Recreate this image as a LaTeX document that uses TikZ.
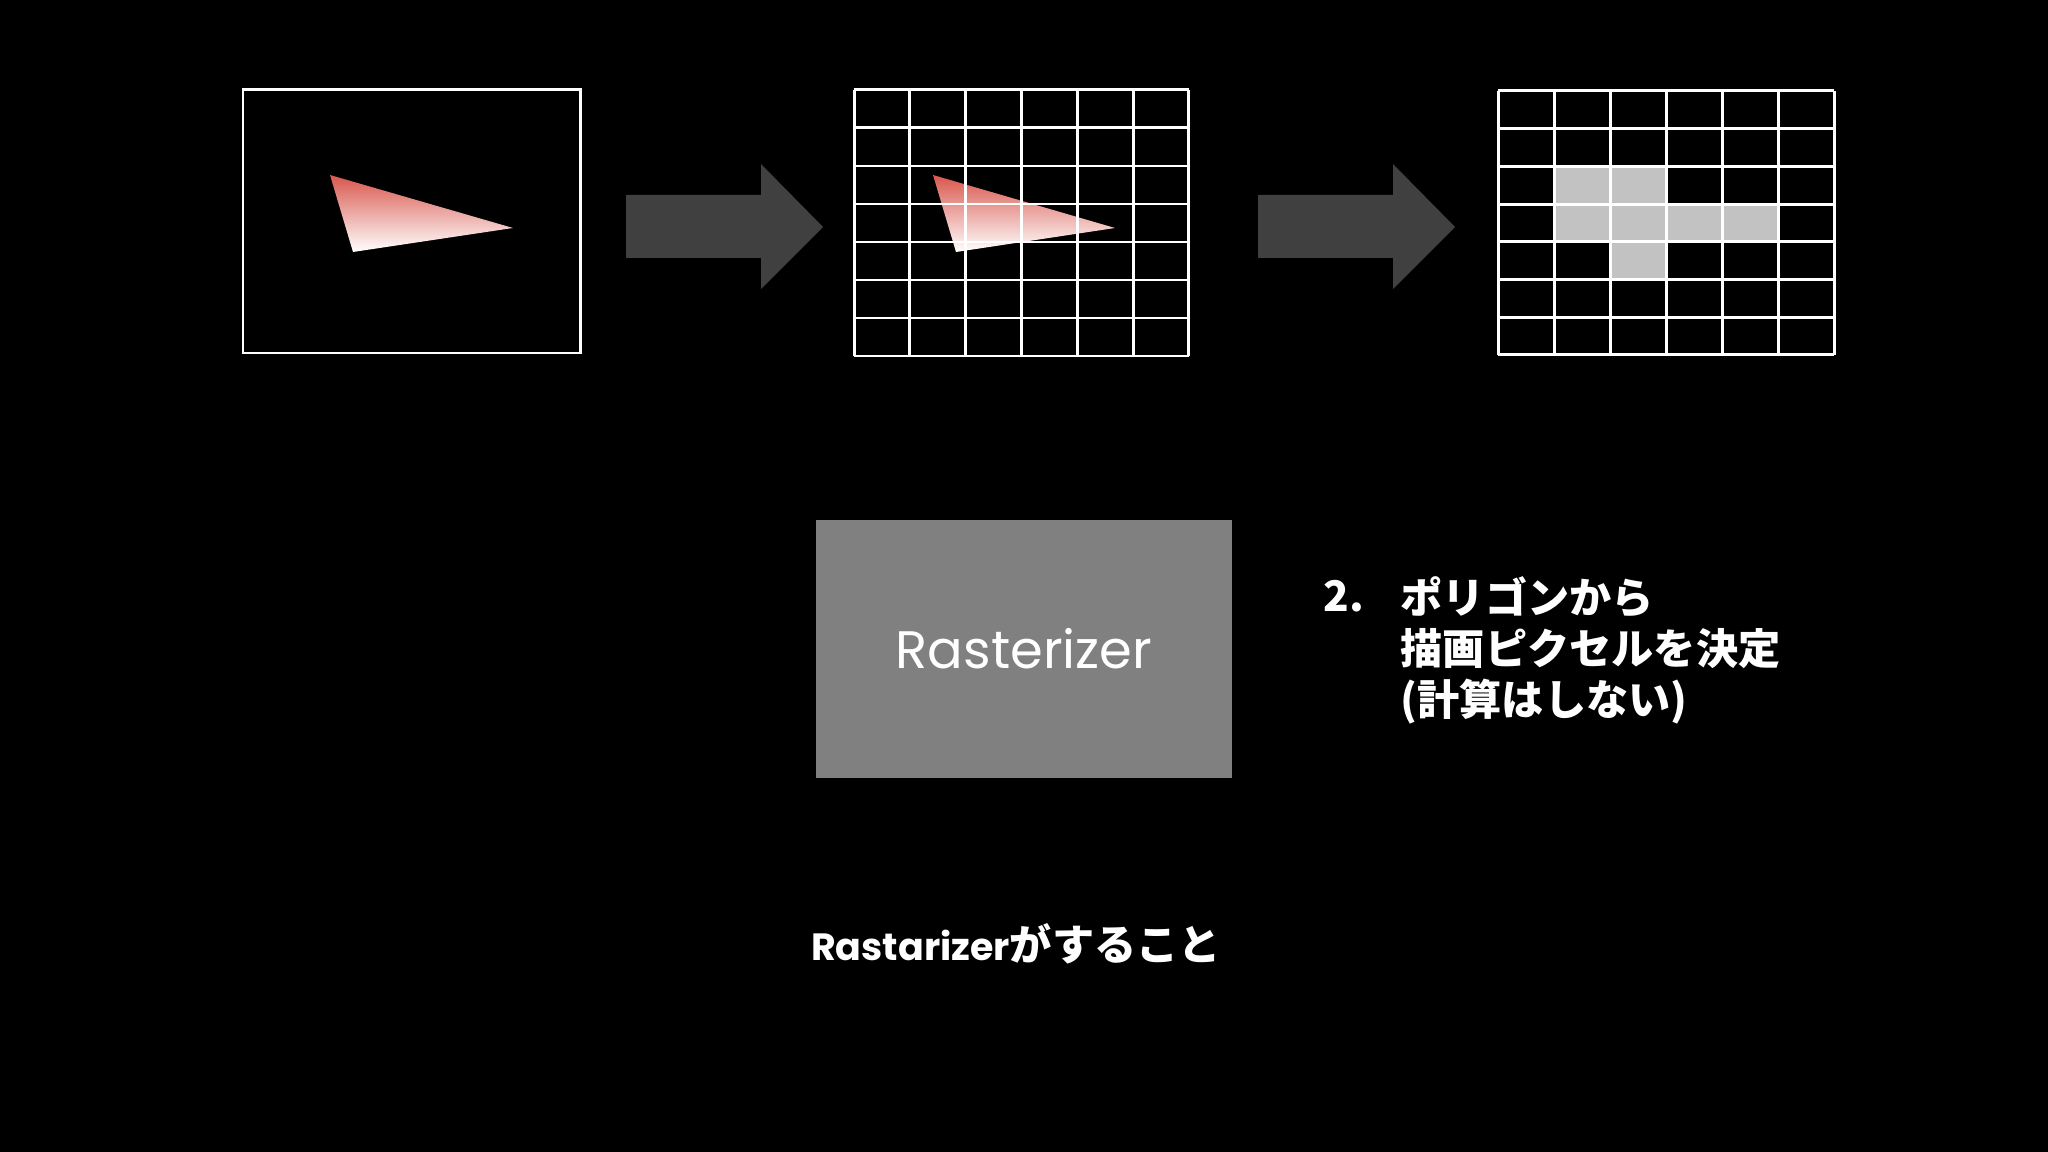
\documentclass[tikz,border=0pt]{standalone}
\usepackage{fontspec}
\setmainfont{Poppins}
\newfontfamily\jpfont{Noto Sans CJK JP}
\usetikzlibrary{calc}

\definecolor{arrowgray}{HTML}{414041}
\definecolor{boxgray}{HTML}{808080}
\definecolor{pixelgray}{HTML}{C2C2C2}
\definecolor{trired}{HTML}{D8574D}
\definecolor{tripink}{HTML}{F5E4E1}

\tikzset{
  frameline/.style={white,line width=0.85pt},
  bigarrow/.style={fill=arrowgray},
  polygon/.style={top color=trired,middle color=tripink,bottom color=white},
}

\begin{document}
\begin{tikzpicture}[x=0.01cm,y=-0.01cm]
  \fill[black] (0,0) rectangle (2048,1152);
  \useasboundingbox (0,0) rectangle (2048,1152);

  % input polygon
  \coordinate (a) at (330,175);
  \coordinate (b) at (513,228);
  \coordinate (c) at (353,252);
  \shade[polygon] (a) -- (b) -- (c) -- cycle;
  \draw[frameline] (243,90) rectangle (580,353);

  % arrows
  \foreach \dx in {0,632} {
    \begin{scope}[xshift=\dx*0.01cm]
      \fill[bigarrow] (626,195) -- (761,195) -- (761,164) -- (823,227)
        -- (761,289) -- (761,258) -- (626,258) -- cycle;
    \end{scope}
  }

  % polygon on the pixel grid
  \begin{scope}[shift={(854,90)}]
    \coordinate (a2) at (79,85);
    \coordinate (b2) at (261,138);
    \coordinate (c2) at (102,162);
    \shade[polygon] (a2) -- (b2) -- (c2) -- cycle;
    \foreach \i in {0,...,6} \draw[frameline] (\i*55.8,0) -- (\i*55.8,266);
    \foreach \j in {0,...,7} \draw[frameline] (0,\j*38) -- (335,\j*38);
  \end{scope}

  % chosen pixels
  \begin{scope}[shift={(1498,91)}]
    \foreach \i/\j in {1/2,2/2,1/3,2/3,3/3,4/3,2/4}
      \fill[pixelgray] (\i*56,\j*37.7) rectangle ++(56,37.7);
    \foreach \i in {0,...,6} \draw[frameline] (\i*56,0) -- (\i*56,264);
    \foreach \j in {0,...,7} \draw[frameline] (0,\j*37.7) -- (336,\j*37.7);
  \end{scope}

  % rasterizer
  \node[fill=boxgray,minimum width=4.16cm,minimum height=2.58cm,inner sep=0pt,
    text=white,font=\fontsize{15}{18}\selectfont] (raster) at (1024,649) {Rasterizer};

  \node[anchor=west,text=white,font=\jpfont\bfseries\fontsize{12}{14.5}\selectfont,
    inner sep=0pt] (num) at (1323,596) {2.};
  \node[anchor=north west,align=left,text=white,inner sep=0pt,
    font=\jpfont\bfseries\fontsize{12}{14.5}\selectfont] (task) at (1400,576)
    {ポリゴンから\\描画ピクセルを決定\\(計算はしない)};

  \node[text=white,inner sep=0pt,font=\bfseries\fontsize{12}{14}\selectfont]
    (title) at (1016,944) {{\fontsize{10.8}{14}\selectfont Rastarizer}{\jpfont がすること}};
\end{tikzpicture}
\end{document}
